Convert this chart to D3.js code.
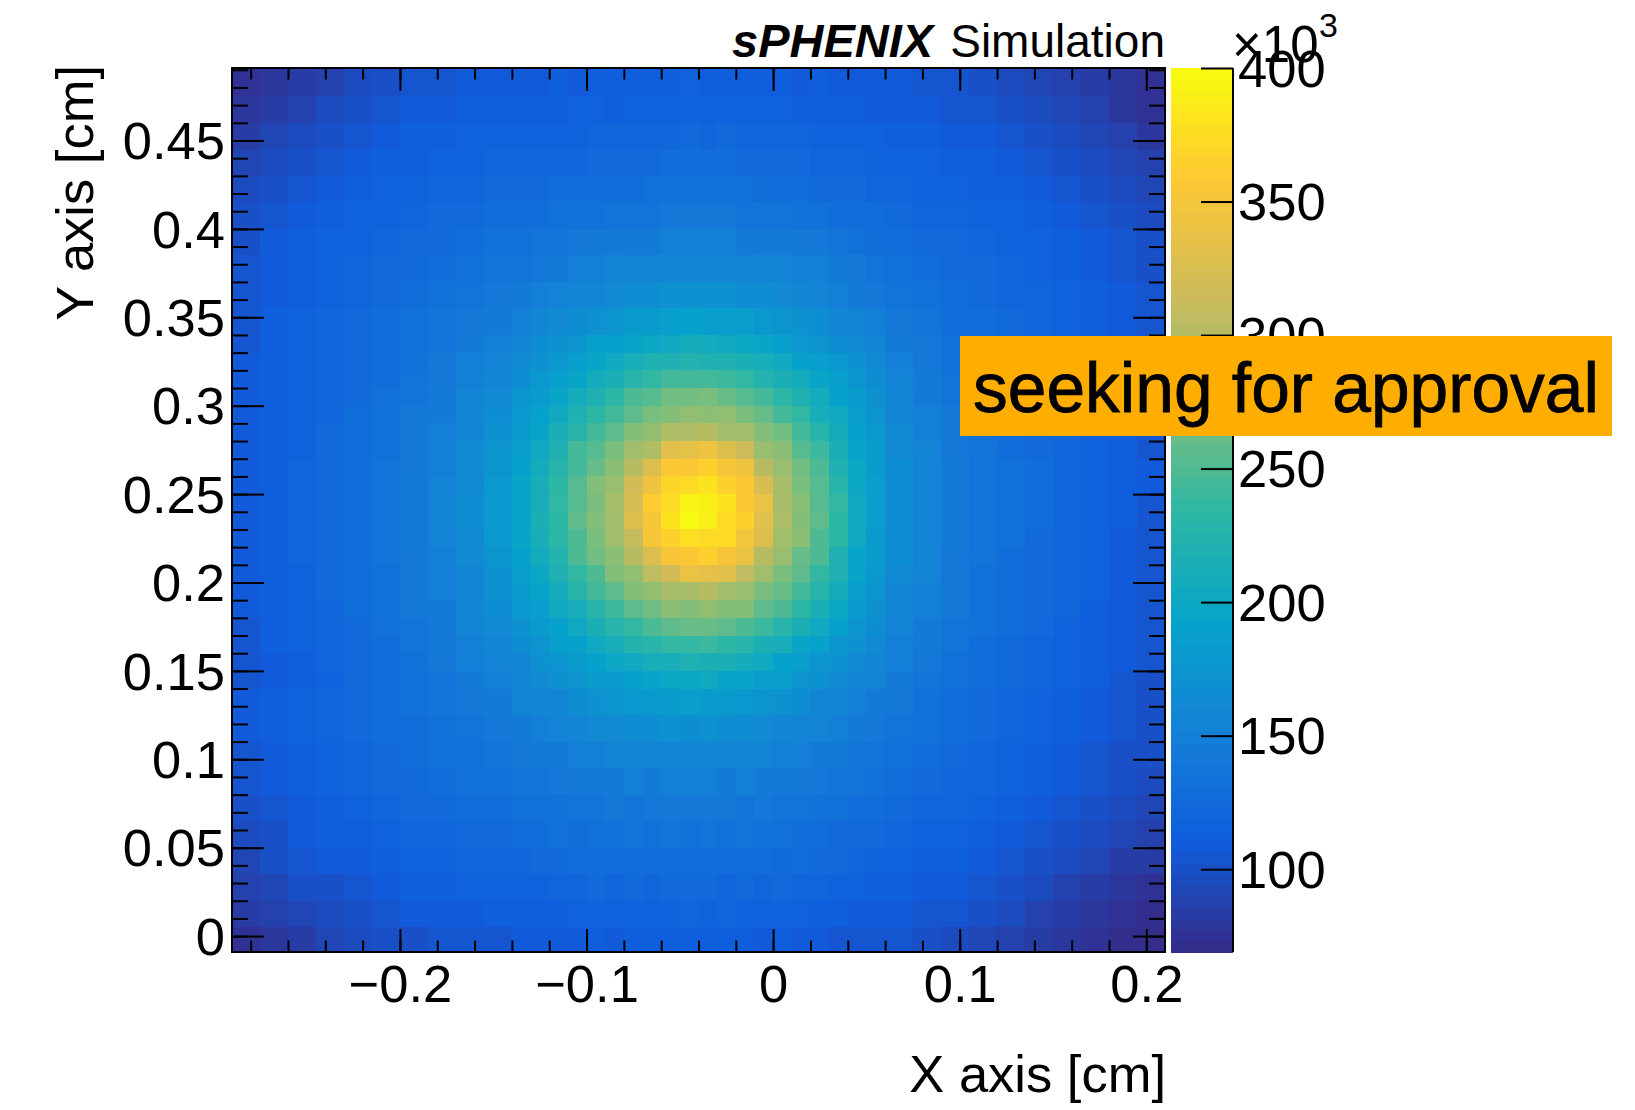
<!DOCTYPE html>
<html>
<head>
<meta charset="utf-8">
<script src="https://cdn.jsdelivr.net/npm/d3@7"></script>
<style>
  body { margin: 0; background: #fff; }
  text { font-family: "Liberation Sans", Helvetica, Arial, sans-serif; fill: #000; }
  .cell { shape-rendering: crispEdges; }
  .domain, .tick line { stroke: #000; }
  .tick line { stroke-width: 2; }
  .domain { display: none; }
</style>
</head>
<body>
<script>
// bin edges in cm (finer around the beam spot)
const xEdges = [-0.29,-0.275,-0.26,-0.245,-0.23,-0.215,-0.2,-0.185,-0.17,-0.155,-0.14,
  -0.13,-0.12,-0.11,-0.1,-0.09,-0.08,-0.07,-0.06,-0.05,-0.04,-0.03,-0.02,-0.01,0,0.01,0.02,0.03,0.04,0.05,0.06,
  0.075,0.09,0.105,0.12,0.135,0.15,0.165,0.18,0.195,0.21];
const yEdges = [0.491,0.475,0.46,0.445,0.43,0.415,0.4,0.385,0.37,0.355,0.34,
  0.33,0.32,0.31,0.3,0.29,0.28,0.27,0.26,0.25,0.24,0.23,0.22,0.21,0.2,0.19,0.18,0.17,0.16,0.15,0.14,
  0.125,0.11,0.095,0.08,0.065,0.05,0.035,0.02,0.005,-0.009];

const xTicks = [-0.2,-0.1,0,0.1,0.2];
const yTicks = [0,0.05,0.1,0.15,0.2,0.25,0.3,0.35,0.4,0.45];
const zTicks = [100,150,200,250,300,350,400];

// counts per bin in thousands, top row first
const counts = [
[74,78,83,88,94,99,103,106,108,109,109,110,111,110,112,113,112,114,113,115,114,113,114,112,112,110,111,109,109,108,107,105,103,100,96,91,87,83,78,74],
[78,83,89,94,100,104,107,110,112,112,112,114,113,115,115,114,116,117,116,118,117,116,116,115,116,114,114,113,112,110,110,108,106,104,100,95,91,86,81,77],
[84,90,95,101,105,109,111,113,115,116,116,117,118,118,120,120,119,121,122,123,122,123,121,120,120,119,118,116,116,115,113,112,110,108,105,101,96,91,86,81],
[90,96,102,106,110,112,114,116,118,119,119,120,122,122,123,125,126,126,127,128,127,127,125,125,124,123,122,120,120,118,117,115,113,111,108,105,101,96,91,86],
[95,101,106,110,113,115,117,119,121,123,124,125,127,127,129,130,130,132,133,134,134,132,132,131,130,128,126,125,124,122,120,118,116,114,112,109,106,101,96,91],
[99,105,110,113,116,118,121,123,125,127,128,131,132,133,134,136,138,139,140,142,141,140,139,137,136,135,133,131,129,127,124,122,120,118,115,113,110,105,101,95],
[102,107,112,115,118,121,123,126,129,132,134,136,138,141,143,146,146,147,149,150,150,149,147,146,145,142,140,137,134,131,128,126,123,121,118,115,112,108,103,98],
[104,109,113,117,120,123,126,130,133,137,139,142,145,149,151,153,156,157,158,159,160,158,157,155,153,150,148,144,141,137,133,130,126,123,120,117,114,110,105,101],
[105,110,114,118,122,125,129,133,137,141,145,149,153,156,160,163,165,168,171,171,170,171,168,165,162,158,154,150,146,142,137,133,129,125,122,119,115,111,107,103],
[106,111,115,119,123,127,132,136,141,146,151,156,162,167,171,176,181,184,186,189,188,187,185,180,175,171,165,159,154,148,142,137,131,127,123,120,116,112,108,104],
[106,111,115,120,124,128,133,138,145,151,157,165,170,176,185,191,196,201,204,207,206,205,200,196,188,180,175,168,163,157,147,141,134,129,125,121,117,113,109,105],
[107,112,116,120,125,129,135,141,148,155,163,170,177,187,194,204,210,218,222,225,222,222,216,211,202,193,186,178,170,161,150,143,135,130,126,122,118,113,109,105],
[107,112,116,121,125,131,137,143,150,159,167,177,186,196,207,216,229,235,243,245,246,241,237,226,217,206,195,186,175,165,153,145,137,131,127,123,118,114,110,105],
[107,112,117,122,126,132,138,145,153,163,174,182,196,206,222,233,247,255,264,267,268,262,255,244,233,218,206,192,182,170,156,147,139,133,128,124,119,115,110,106],
[107,112,118,122,127,133,140,147,156,167,177,191,202,220,231,245,256,270,274,281,276,281,268,262,245,235,213,204,186,174,159,149,141,134,129,125,120,115,110,106],
[108,113,118,123,128,134,141,149,159,170,184,197,214,230,244,256,275,282,298,297,304,292,290,272,265,244,230,208,192,178,162,151,142,135,130,125,120,116,111,106],
[108,113,118,124,129,135,142,150,161,173,187,205,220,243,255,268,289,300,330,336,345,328,315,287,277,255,242,216,196,182,164,152,143,136,131,126,121,116,111,106],
[108,113,119,124,130,136,143,151,162,176,192,207,228,245,263,278,302,329,355,358,366,351,343,303,288,264,250,222,201,184,166,154,144,137,132,127,122,116,111,107],
[109,114,119,125,131,137,144,152,164,178,194,213,231,255,272,285,320,345,371,373,383,366,358,322,295,271,255,229,201,186,167,155,145,138,132,127,122,117,111,107],
[109,114,120,125,131,137,144,153,165,178,197,213,237,254,271,295,323,360,372,394,388,382,358,340,293,279,253,237,204,187,168,155,145,138,133,127,122,116,111,106],
[109,114,120,125,131,137,145,153,165,178,194,215,231,257,275,290,328,353,380,398,389,375,365,332,299,273,258,232,202,186,167,154,145,138,132,127,121,116,111,106],
[109,114,119,125,131,137,144,152,164,177,195,210,233,250,268,289,313,351,364,378,374,372,350,329,289,276,250,234,202,184,166,154,144,137,132,126,121,116,110,106],
[108,113,119,124,130,136,143,151,162,175,191,208,223,248,264,277,301,327,354,358,365,351,340,304,287,263,249,222,197,182,165,153,143,136,131,126,121,116,110,106],
[108,113,118,123,129,135,142,150,160,172,188,201,220,235,250,272,283,305,320,340,335,333,306,292,271,259,236,220,195,179,163,152,142,135,130,125,120,115,110,105],
[107,112,118,123,128,134,141,149,158,170,182,197,208,228,243,256,274,281,296,296,303,292,288,271,263,244,229,207,186,175,160,150,141,134,129,124,120,115,110,105],
[107,112,117,122,127,133,140,147,156,166,178,187,203,212,230,240,258,265,277,274,281,272,272,256,248,231,216,199,183,171,157,148,140,133,128,124,119,114,109,105],
[106,111,116,121,126,132,139,146,154,163,171,183,190,205,214,230,238,250,256,261,262,258,251,240,230,216,203,190,176,167,154,146,138,132,127,123,118,114,109,104],
[106,111,115,120,125,131,137,144,151,159,168,173,186,191,205,210,225,228,237,236,239,231,229,215,211,195,189,175,171,163,151,144,137,130,126,122,117,113,108,104],
[106,110,114,119,124,129,135,141,148,154,160,169,174,184,189,199,202,213,213,219,214,215,206,203,192,188,176,172,164,157,148,142,135,129,125,120,116,112,107,103],
[105,109,114,118,123,128,134,139,145,151,158,161,169,173,182,184,193,194,201,199,202,196,196,187,185,174,172,161,160,152,144,139,133,127,123,119,115,111,106,102],
[108,112,116,120,124,128,133,137,142,147,152,157,160,167,169,175,177,182,182,185,183,183,178,176,169,166,159,156,150,146,140,135,130,126,122,118,114,110,106,102],
[107,111,115,119,123,127,131,135,139,143,147,150,155,156,161,161,165,165,169,168,170,166,166,161,160,155,154,148,146,141,137,132,128,124,120,116,112,108,104,100],
[105,110,114,118,122,125,129,132,135,138,141,145,146,150,150,153,153,156,155,158,156,157,154,154,150,150,145,144,139,136,133,129,125,121,118,114,110,106,102,98],
[103,108,112,116,120,123,126,129,132,134,137,139,142,142,145,145,148,147,149,148,150,147,148,145,146,142,142,137,136,132,129,125,122,119,115,112,107,103,99,95],
[100,105,110,114,117,120,123,126,128,130,132,135,135,138,137,140,139,142,140,143,141,142,139,140,137,138,134,134,129,127,125,122,119,116,112,108,104,99,95,91],
[96,102,107,111,114,117,120,122,124,126,129,128,132,131,134,133,136,134,137,135,137,134,136,133,134,130,130,126,126,123,121,118,115,112,108,104,99,94,90,86],
[92,98,103,107,110,113,116,118,120,122,122,125,125,128,127,129,128,130,128,131,129,130,128,129,126,127,123,123,119,118,117,114,111,108,104,99,94,90,85,82],
[87,93,98,102,106,109,111,113,115,117,118,118,121,120,123,121,124,122,125,123,125,122,124,121,123,120,120,117,117,113,113,110,107,103,99,94,89,85,80,77],
[82,87,92,97,101,104,107,108,110,111,111,114,113,116,115,117,116,118,117,119,117,119,116,117,115,116,113,113,109,108,109,106,103,98,94,89,84,80,76,73],
[76,80,85,90,95,99,101,103,104,105,107,107,110,109,112,110,113,111,114,112,114,111,113,110,112,109,110,106,106,103,103,100,97,93,89,84,80,76,72,70]
];

// ROOT kBird palette
const birdStops = [0,0.125,0.25,0.375,0.5,0.625,0.75,0.875,1];
const birdColors = ["#352a87","#0f5cdd","#1481d6","#06a4ca","#2eb7a4","#87bf77","#d1bb59","#fec832","#f9fb0e"];
const zMin = 69, zMax = 400, nContours = 80;

const width = 1635, height = 1110;
const frame = { left: 232, right: 1165, top: 68, bottom: 952 };
const bar = { left: 1171, right: 1233 };
const fontSize = 52.5;

const x = d3.scaleLinear().domain([-0.29, 0.21]).range([frame.left, frame.right]);
const y = d3.scaleLinear().domain([-0.009, 0.491]).range([frame.bottom, frame.top]);
const z = d3.scaleLinear().domain([zMin, zMax]).range([frame.bottom, frame.top]);

const bird = d3.scaleLinear().domain(birdStops).range(birdColors).interpolate(d3.interpolateRgb);
const levels = d3.range(nContours).map(function (i) { return bird((i + 0.5) / nContours); });
const color = d3.scaleQuantize().domain([zMin, zMax]).range(levels);

const svg = d3.select("body").append("svg")
    .attr("width", width)
    .attr("height", height);

// histogram
const cells = [];
counts.forEach(function (row, j) {
  row.forEach(function (v, i) {
    cells.push({ i: i, j: j, v: v });
  });
});

svg.append("g").selectAll("rect")
    .data(cells)
  .enter().append("rect")
    .attr("class", "cell")
    .attr("x", function (d) { return x(xEdges[d.i]); })
    .attr("y", function (d) { return y(yEdges[d.j]); })
    .attr("width", function (d) { return x(xEdges[d.i + 1]) - x(xEdges[d.i]); })
    .attr("height", function (d) { return y(yEdges[d.j + 1]) - y(yEdges[d.j]); })
    .attr("fill", function (d) { return color(d.v); });

// palette
svg.append("g").selectAll("rect")
    .data(levels)
  .enter().append("rect")
    .attr("class", "cell")
    .attr("x", bar.left)
    .attr("width", bar.right - bar.left)
    .attr("y", function (d, i) { return z(zMin + (i + 1) * (zMax - zMin) / nContours); })
    .attr("height", (frame.bottom - frame.top) / nContours + 0.5)
    .attr("fill", function (d) { return d; });

// axes
const fmt = d3.format("~g");
const xMinor = d3.range(-0.28, 0.205, 0.02);
const yMinor = d3.range(0, 0.4905, 0.01);

function ticks(axis, values, size, labels) {
  return axis.tickValues(values).tickSize(size).tickFormat(labels ? fmt : "");
}

svg.append("g").attr("transform", "translate(0," + frame.bottom + ")").call(ticks(d3.axisBottom(x), xMinor, -11.5));
svg.append("g").attr("transform", "translate(0," + frame.top + ")").call(ticks(d3.axisTop(x), xMinor, -11.5));
svg.append("g").attr("transform", "translate(" + frame.left + ",0)").call(ticks(d3.axisLeft(y), yMinor, -16));
svg.append("g").attr("transform", "translate(" + frame.right + ",0)").call(ticks(d3.axisRight(y), yMinor, -16));

svg.append("g").attr("transform", "translate(0," + frame.top + ")").call(ticks(d3.axisTop(x), xTicks, -23));
svg.append("g").attr("transform", "translate(" + frame.right + ",0)").call(ticks(d3.axisRight(y), yTicks, -32));

const xAxis = svg.append("g").attr("transform", "translate(0," + frame.bottom + ")")
    .call(ticks(d3.axisBottom(x), xTicks, -23, true));
xAxis.selectAll("text")
    .attr("y", 50).attr("dy", 0)
    .style("font-size", fontSize + "px").style("font-family", "Liberation Sans");

const yAxis = svg.append("g").attr("transform", "translate(" + frame.left + ",0)")
    .call(ticks(d3.axisLeft(y), yTicks, -32, true));
yAxis.selectAll("text")
    .attr("x", -7).attr("dy", "0.345em")
    .style("font-size", fontSize + "px").style("font-family", "Liberation Sans");

const zAxis = svg.append("g").attr("transform", "translate(" + bar.right + ",0)")
    .call(d3.axisRight(z).tickValues(zTicks).tickSize(-32).tickFormat(fmt));
zAxis.selectAll("text")
    .attr("x", 5).attr("dy", "0.345em")
    .style("font-size", fontSize + "px").style("font-family", "Liberation Sans");

// frames
svg.append("rect")
    .attr("x", frame.left).attr("y", frame.top)
    .attr("width", frame.right - frame.left).attr("height", frame.bottom - frame.top)
    .attr("fill", "none").attr("stroke", "#000").attr("stroke-width", 2);
svg.append("line")
    .attr("x1", bar.right).attr("x2", bar.right)
    .attr("y1", frame.top).attr("y2", frame.bottom)
    .attr("stroke", "#000").attr("stroke-width", 2);

// titles
svg.append("text")
    .attr("x", frame.right + 1).attr("y", 1092)
    .attr("text-anchor", "end")
    .style("font-size", fontSize + "px")
    .text("X axis [cm]");
svg.append("text")
    .attr("transform", "translate(93,65) rotate(-90)")
    .attr("text-anchor", "end")
    .style("font-size", fontSize + "px")
    .text("Y axis [cm]");

const label = svg.append("text")
    .attr("x", frame.right).attr("y", 57)
    .attr("text-anchor", "end")
    .style("font-size", "46px");
label.append("tspan").style("font-weight", "bold").style("font-style", "italic").style("font-size", "47px").text("sPHENIX");
label.append("tspan").attr("dx", 17).text("Simulation");

// exponent of the palette axis
svg.append("text").attr("x", 1232).attr("y", 62).style("font-size", "51px").text("×10");
svg.append("text").attr("x", 1319).attr("y", 37).style("font-size", "34px").text("3");

// status banner
svg.append("rect")
    .attr("x", 960).attr("y", 336)
    .attr("width", 652).attr("height", 100)
    .attr("fill", "#ffae00");
svg.append("text")
    .attr("x", 973).attr("y", 412)
    .attr("stroke", "#000").attr("stroke-width", 0.8)
    .style("font-size", "69.5px")
    .text("seeking for approval");
</script>
</body>
</html>
